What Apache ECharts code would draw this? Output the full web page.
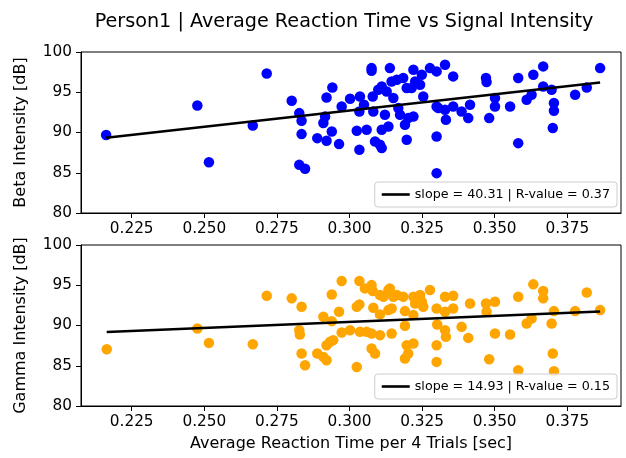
<!DOCTYPE html>
<html>
<head>
<meta charset="utf-8">
<script src="https://cdn.jsdelivr.net/npm/echarts@6/dist/echarts.min.js"></script>
<style>html,body{margin:0;padding:0;background:#fff}#c{width:626px;height:458px}</style>
</head>
<body>
<div id="c"></div>
<script>
const titleText = 'Person1 | Average Reaction Time vs Signal Intensity';
const xTicks = [0.225, 0.250, 0.275, 0.300, 0.325, 0.350, 0.375];
const yTicks = [80, 85, 90, 95, 100];

const betaX = [0.2162,0.2476,0.2516,0.2667,0.2715,0.2801,0.2827,0.2835,0.2835,0.2827,0.2847,0.2889,0.2921,0.2910,0.2916,0.2939,0.2921,0.2941,0.2964,0.2973,0.3002,0.3025,0.3034,0.3036,0.3034,0.3059,0.3050,0.3076,0.3076,0.3082,0.3088,0.3105,0.3111,0.3080,0.3099,0.3111,0.3111,0.3134,0.3122,0.3139,0.3128,0.3151,0.3145,0.3163,0.3168,0.3174,0.3185,0.3197,0.3191,0.3197,0.3202,0.3220,0.3214,0.3220,0.3226,0.3243,0.3254,0.3249,0.3277,0.3300,0.3300,0.3300,0.3300,0.3329,0.3357,0.3306,0.3329,0.3332,0.3357,0.3386,0.3409,0.3415,0.3470,0.3472,0.3481,0.3501,0.3501,0.3553,0.3581,0.3581,0.3610,0.3627,0.3633,0.3667,0.3667,0.3696,0.3704,0.3704,0.3700,0.3777,0.3817,0.3863];
const betaY = [89.70,93.36,86.30,90.87,97.34,93.94,92.41,91.45,89.80,85.98,85.49,89.30,88.97,91.17,91.99,90.12,94.35,95.60,88.56,93.23,94.19,90.21,87.85,94.48,92.61,90.34,93.45,98.00,97.67,92.61,88.88,88.47,88.06,94.48,95.31,95.72,90.34,90.75,92.20,98.00,95.10,94.28,96.34,96.55,93.03,92.20,96.77,89.09,90.96,95.52,91.79,97.80,95.52,91.99,96.34,95.93,94.48,97.18,98.00,97.59,93.23,89.50,84.95,98.42,96.97,93.03,92.82,91.58,93.23,92.61,91.79,93.45,96.77,96.27,91.79,94.28,93.23,93.23,96.77,88.68,94.07,94.69,97.18,98.21,95.72,95.31,93.66,92.70,90.55,94.69,95.60,98.00];

const gammaX = [0.2164,0.2476,0.2516,0.2667,0.2715,0.2801,0.2835,0.2827,0.2829,0.2835,0.2847,0.2889,0.2910,0.2921,0.2910,0.2921,0.2933,0.2944,0.2939,0.2939,0.2964,0.2973,0.2973,0.3002,0.3025,0.3025,0.3034,0.3034,0.3036,0.3053,0.3059,0.3076,0.3080,0.3082,0.3076,0.3076,0.3088,0.3105,0.3105,0.3105,0.3117,0.3134,0.3139,0.3145,0.3134,0.3151,0.3145,0.3163,0.3185,0.3191,0.3191,0.3197,0.3191,0.3202,0.3220,0.3220,0.3226,0.3220,0.3243,0.3249,0.3254,0.3277,0.3300,0.3300,0.3300,0.3329,0.3357,0.3357,0.3329,0.3302,0.3329,0.3332,0.3386,0.3409,0.3415,0.3470,0.3472,0.3501,0.3501,0.3481,0.3553,0.3581,0.3581,0.3610,0.3627,0.3633,0.3667,0.3667,0.3696,0.3704,0.3700,0.3704,0.3777,0.3817,0.3863];
const gammaY = [87.06,89.63,87.84,87.68,93.69,93.37,92.32,89.42,88.88,86.52,85.07,86.52,86.10,85.69,91.08,87.55,87.97,88.18,90.54,93.86,91.70,95.52,89.13,89.42,84.85,92.32,92.62,95.52,89.21,94.61,89.21,95.02,94.28,92.20,89.00,87.14,86.52,93.78,91.38,88.80,93.57,94.40,94.61,89.00,91.91,93.57,92.12,93.78,93.57,91.79,89.96,87.55,85.90,86.52,87.77,93.57,92.74,91.29,93.78,92.94,92.32,94.40,92.12,87.55,85.48,93.57,93.69,92.12,91.70,90.13,89.42,88.59,89.83,88.46,92.74,92.74,91.70,92.94,89.00,85.81,88.88,93.57,84.44,90.25,90.88,95.11,94.28,93.37,90.25,91.79,86.52,84.32,91.79,94.11,91.91];

const betaFit = {slope: 40.31, intercept: 80.64, r: 0.37};
const gammaFit = {slope: 14.93, intercept: 85.97, r: 0.15};

const FONT = 'DejaVu Sans';
const TICK_FS = 15.3;
const NAME_FS = 16;
function pairs(xs, ys){ return xs.map((x,i)=>[x, ys[i]]); }
function fitLine(xs, fit){
  const a = Math.min(...xs), b = Math.max(...xs);
  return [[a, fit.intercept + fit.slope*a], [b, fit.intercept + fit.slope*b]];
}
function fitName(fit){ return 'slope = ' + fit.slope.toFixed(2) + ' | R-value = ' + fit.r.toFixed(2); }

const XMIN = 0.207541, XMAX = 0.393492;
function xAxisCfg(idx, withName){
  const o = {
    type: 'value', gridIndex: idx, min: XMIN, max: XMAX,
    splitLine: {show: false},
    axisLine: {show: true, lineStyle: {color: '#000', width: 1}},
    axisTick: {show: true, length: 5, lineStyle: {color: '#000', width: 1}, customValues: xTicks},
    axisLabel: {show: true, margin: 9, color: '#000', fontSize: TICK_FS, fontFamily: FONT, customValues: xTicks,
      formatter: v => v.toFixed(3)}
  };
  if (withName){
    o.name = 'Average Reaction Time per 4 Trials [sec]';
    o.nameLocation = 'middle';
    o.nameGap = 30;
    o.nameTextStyle = {color: '#000', fontSize: NAME_FS, fontFamily: FONT};
  }
  return o;
}
function yAxisCfg(idx, name){
  return {
    type: 'value', gridIndex: idx, min: yTicks[0], max: yTicks[yTicks.length-1], interval: 5,
    splitLine: {show: false},
    axisLine: {show: true, lineStyle: {color: '#000', width: 1}},
    axisTick: {show: true, length: 5, lineStyle: {color: '#000', width: 1}},
    axisLabel: {margin: 9, color: '#000', fontSize: TICK_FS, fontFamily: FONT},
    name: name, nameLocation: 'middle', nameRotate: 90, nameGap: 52.5,
    nameTextStyle: {color: '#000', fontSize: NAME_FS, fontFamily: FONT}
  };
}
function legendCfg(top, name){
  return {
    data: [{name: name, icon: 'rect'}], right: 9, top: top, orient: 'vertical',
    itemWidth: 28, itemHeight: 2.6, padding: [5, 7, 5, 7],
    backgroundColor: 'rgba(255,255,255,0.8)', borderColor: '#cccccc', borderWidth: 1, borderRadius: 3,
    itemStyle: {color: '#000', borderWidth: 0},
    textStyle: {color: '#000', fontSize: 12.7, fontFamily: FONT, lineHeight: 15},
    selectedMode: false, z: 10
  };
}

const chart = echarts.init(document.getElementById('c'), null, {renderer: 'canvas'});
chart.setOption({
  animation: false,
  backgroundColor: '#fff',
  title: {text: titleText, left: 339, top: 8, textAlign: 'center',
    textStyle: {color: '#000', fontSize: 19.2, fontWeight: 'normal', fontFamily: FONT}},
  grid: [
    {left: 81, right: 5, top: 52, height: 161, show: true, borderColor: '#000', borderWidth: 1, backgroundColor: 'transparent'},
    {left: 81, right: 5, top: 245, height: 161, show: true, borderColor: '#000', borderWidth: 1, backgroundColor: 'transparent'}
  ],
  xAxis: [xAxisCfg(0, false), xAxisCfg(1, true)],
  yAxis: [yAxisCfg(0, 'Beta Intensity [dB]'), yAxisCfg(1, 'Gamma Intensity [dB]')],
  legend: [legendCfg(182, fitName(betaFit)), legendCfg(374, fitName(gammaFit))],
  series: [
    {name: 'beta', type: 'scatter', xAxisIndex: 0, yAxisIndex: 0, data: pairs(betaX, betaY),
      symbolSize: 10.5, itemStyle: {color: '#0000ff', opacity: 1}, z: 2},
    {name: fitName(betaFit), type: 'line', xAxisIndex: 0, yAxisIndex: 0, data: fitLine(betaX, betaFit),
      showSymbol: false, symbol: 'none', lineStyle: {color: '#000', width: 2.6}, itemStyle: {color: '#000'}, z: 3},
    {name: 'gamma', type: 'scatter', xAxisIndex: 1, yAxisIndex: 1, data: pairs(gammaX, gammaY),
      symbolSize: 10.5, itemStyle: {color: '#ffa500', opacity: 1}, z: 2},
    {name: fitName(gammaFit), type: 'line', xAxisIndex: 1, yAxisIndex: 1, data: fitLine(gammaX, gammaFit),
      showSymbol: false, symbol: 'none', lineStyle: {color: '#000', width: 2.6}, itemStyle: {color: '#000'}, z: 3}
  ]
});
</script>
</body>
</html>
